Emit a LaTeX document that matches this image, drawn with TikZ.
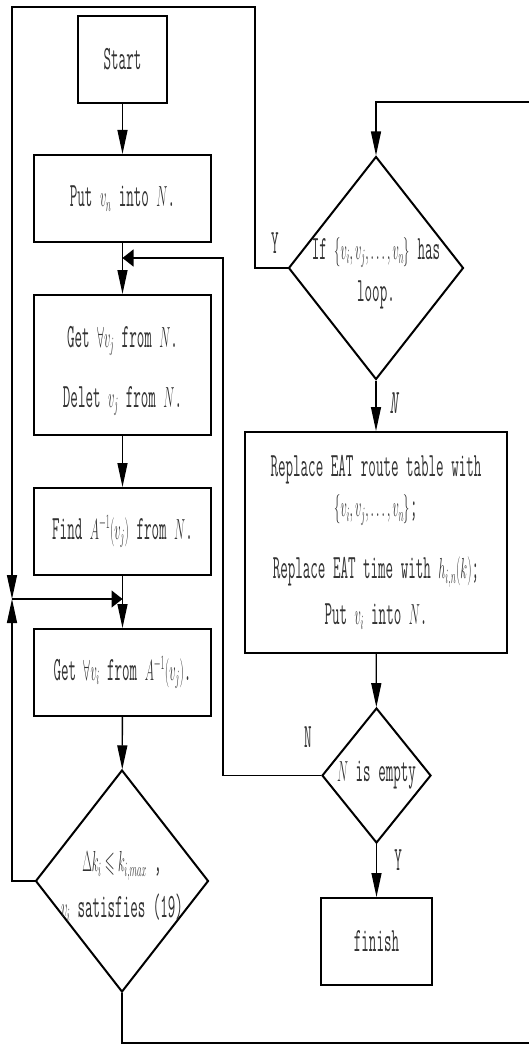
\RequirePackage{fix-cm}
\documentclass[tikz,border=0pt]{standalone}
\usepackage{amssymb}
\usepackage{fontspec}
\usetikzlibrary{shapes.geometric,arrows.meta}
\newcommand\cnd[1]{\scalebox{0.43}[1]{#1}}
\newcommand\mth[1]{{\fontsize{29}{40}\selectfont$#1$}}
\begin{document}
\begin{tikzpicture}[x=1pt,y=-1pt,
  txt/.style={font=\ttfamily\fontsize{34}{46}\selectfont, align=center, text=black!80},
  box/.style={draw, line width=2pt, rectangle, inner sep=0pt, txt},
  dia/.style={draw, line width=2pt, diamond, inner sep=0pt},
  conn/.style={line width=1.3pt},
  arr/.style={conn, -{Triangle[length=24pt,width=10pt]}},
  harr/.style={conn, -{Triangle[length=11pt,width=17pt]}},
  lab/.style={font=\ttfamily\fontsize{34}{40}\selectfont, text=black!80}
]
\useasboundingbox (0,0) rectangle (529,1046);
\clip (0,0) rectangle (529,1046);
\fill[white] (0,0) rectangle (529,1046);

% left column
\node[box, minimum width=89pt, minimum height=87pt] (start) at (122.5,59.5) {\cnd{Start}};
\node[box, minimum width=177pt, minimum height=87pt] (put) at (122.5,198.5) {\cnd{Put \mth{v_n} into \mth{N}.}};
\node[box, minimum width=177pt, minimum height=140pt,
  label={[txt, yshift=-6pt]center:{\cnd{Get \mth{\forall v_j} from \mth{N}.}\\[14pt]\cnd{Delet \mth{v_j} from \mth{N}.}}}] (getj) at (122.5,365) {};
\node[box, minimum width=177pt, minimum height=87pt] (find) at (122.5,531.5) {\cnd{Find \mth{A^{-1}(v_j)} from \mth{N}.}};
\node[box, minimum width=177pt, minimum height=87pt] (geti) at (122.5,672.5) {\cnd{Get \mth{\forall v_i} from \mth{A^{-1}(v_j)}.}};
\node[dia, minimum width=173pt, minimum height=222pt,
  label={[txt, yshift=-6pt]center:{\cnd{\mth{\Delta k_i\leqslant k_{i,max}} ,}\\[0pt]\cnd{\mth{v_i} satisfies (19)}}}] (dk) at (122,881) {};

% right column
\node[dia, minimum width=175pt, minimum height=223pt,
  label={[txt, yshift=-5pt]center:{\cnd{If \mth{\{v_i,v_j,\ldots,v_n\}} has}\\[-4pt]\cnd{loop.}}}] (loop) at (376,268) {};
\node[box, minimum width=262pt, minimum height=221pt,
  label={[txt, font=\ttfamily\fontsize{34}{40}\selectfont]center:{\cnd{Replace EAT route table with}\\[0pt]\cnd{\mth{\{v_i,v_j,\ldots,v_n\}};}\\[22pt]\cnd{Replace EAT time with \mth{h_{i,n}(k)};}\\[6pt]\cnd{Put \mth{v_i} into \mth{N}.}}}] (rep) at (376,542.5) {};
\node[dia, minimum width=109pt, minimum height=135pt,
  label={[txt]center:{\cnd{\mth{N} is empty}}}] (empty) at (376.5,775.5) {};
\node[box, minimum width=111pt, minimum height=87pt] (fin) at (376.5,941.5) {\cnd{finish}};

% coordinates
\coordinate (J) at (12,599);
\coordinate (M) at (122.5,599);
\coordinate (R) at (122.5,258);

% main flow
\draw[arr] (start) -- (put);
\draw[arr] (put) -- (getj);
\draw[arr] (getj) -- (find);
\draw[arr] (find) -- (geti);
\draw[arr] (geti) -- (dk);
\draw[arr] (loop) -- node[lab, right, pos=0.45, xshift=10pt]{\cnd{\itshape N}} (rep);
\draw[arr] (rep) -- (empty);
\draw[arr] (empty) -- node[lab, right, pos=0.3, xshift=14pt]{\cnd{Y}} (fin);

% loops
\draw[arr] (dk.south) -- (122,1043) -- (533,1043) -- (533,102) -- (376,102) -- (loop.north);
\draw[arr] (loop.west) -- (255,268) -- (255,7) -- (12,7) -- (J);
\draw[arr] (dk.west) -- (12,881) -- (J);
\draw[harr] (J) -- (M);
\draw[harr] (empty.west) -- (223,775.5) -- (223,258) -- (R);

% labels
\node[lab] (ylab) at (275,243) {\cnd{Y}};
\node[lab] (nlab) at (308,737) {\cnd{N}};
\end{tikzpicture}
\end{document}
